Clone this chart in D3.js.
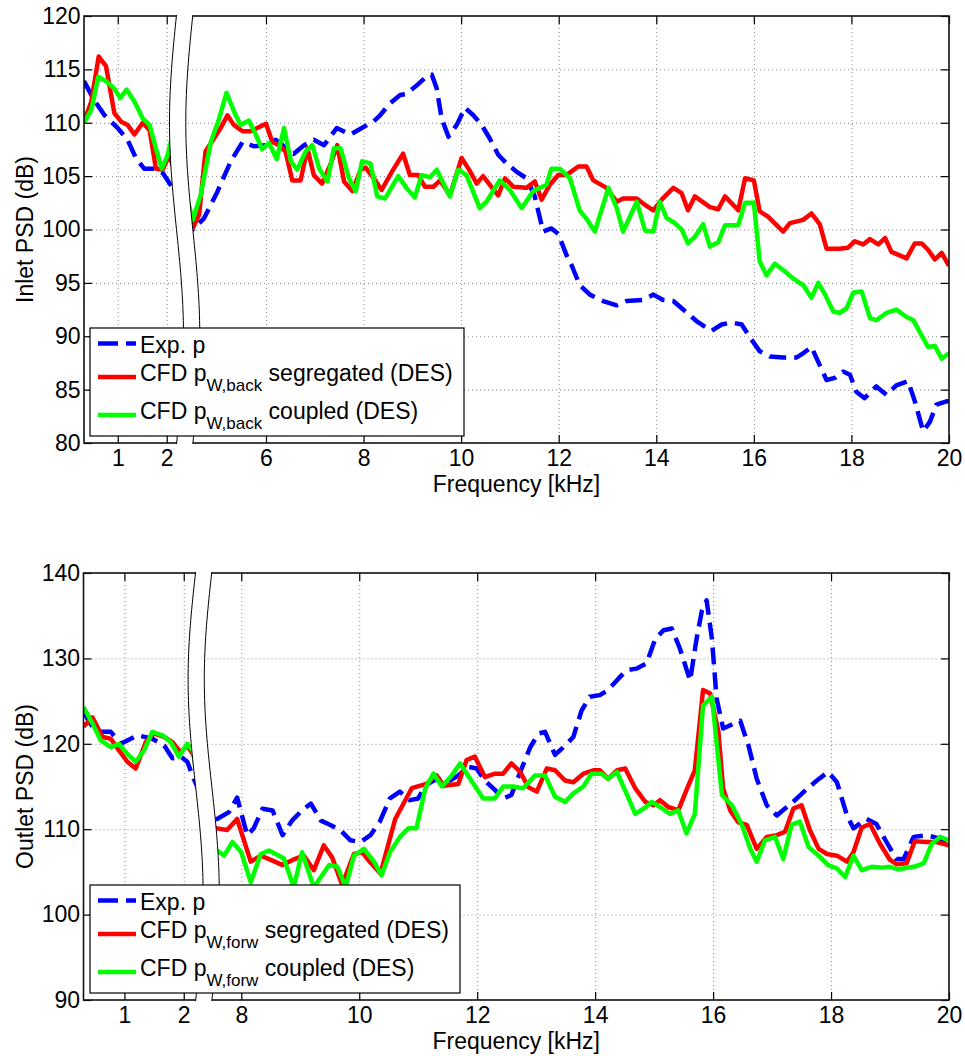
<!DOCTYPE html>
<html><head><meta charset="utf-8">
<script src="https://cdn.jsdelivr.net/npm/d3@7"></script>
<style>body{margin:0;background:#fff}svg{display:block;font-family:"Liberation Sans",Arial,Helvetica,sans-serif}</style>
</head><body><svg id="c" width="965" height="1056"></svg>
<script>
// ---------- tick labels ----------
const inletXTicks=[1,2,6,8,10,12,14,16,18,20];
const inletYTicks=[80,85,90,95,100,105,110,115,120];
const outletXTicks=[1,2,8,10,12,14,16,18,20];
const outletYTicks=[90,100,110,120,130,140];

// ---------- broken frequency axis (kHz): start, break start, break end, end ----------
const inletXDomain=[0.31,2.2,4.5,20];
const outletXDomain=[0.31,2.2,7.5,20];

// ---------- legend labels ----------
const inletLegend=[{main:"Exp. p"},{main:"CFD p",sub:"W,back",rest:" segregated (DES)"},{main:"CFD p",sub:"W,back",rest:" coupled (DES)"}];
const outletLegend=[{main:"Exp. p"},{main:"CFD p",sub:"W,forw",rest:" segregated (DES)"},{main:"CFD p",sub:"W,forw",rest:" coupled (DES)"}];

// ---------- Inlet PSD (dB) ----------
const inletExp=[[0.31,113.9],[0.52,112.1],[0.73,110.7],[1.0,109.5],[1.2,108.4],[1.37,106.7],[1.54,105.7],[1.75,105.7],[1.92,105.3],[2.12,103.9],[2.3,103.2],
[4.5,100.0],[4.73,101.05],[5.0,103.5],[5.28,106.4],[5.52,108.2],[5.75,107.8],[6.0,107.9],[6.2,108.4],[6.37,107.8],[6.57,107.1],[6.78,107.9],[6.98,108.4],[7.19,107.9],[7.45,109.5],[7.73,108.9],[8.0,109.6],[8.2,110.1],[8.34,110.7],[8.54,111.8],[8.75,112.6],[8.88,112.7],[9.09,113.5],[9.26,114.2],[9.4,114.5],[9.5,113.2],[9.6,110.4],[9.74,108.7],[9.91,109.8],[10.08,111.4],[10.25,110.7],[10.42,109.8],[10.59,108.5],[10.76,107],[10.93,106.2],[11.14,105.4],[11.34,104.8],[11.51,103.1],[11.68,99.8],[11.85,100.1],[11.99,99.6],[12.16,97.6],[12.26,96.7],[12.43,94.8],[12.64,93.9],[12.91,93.3],[13.19,92.9],[13.39,93.3],[13.73,93.4],[13.94,93.9],[14.14,93.4],[14.35,93.3],[14.55,92.5],[14.83,91.4],[15.13,90.5],[15.34,91.1],[15.54,91.3],[15.75,91.1],[15.95,89.7],[16.12,88.6],[16.33,88.1],[16.6,88],[16.87,88],[17.01,88.4],[17.18,89],[17.35,87.3],[17.49,85.9],[17.66,86.1],[17.83,86.7],[17.97,86.4],[18.1,84.8],[18.27,84.2],[18.51,85.3],[18.72,84.5],[18.92,85.4],[19.16,85.8],[19.3,83.9],[19.47,81.1],[19.61,82],[19.74,83.6],[19.95,83.9],[20,83.9]];
const inletSeg=[[0.31,110.1],[0.46,112],[0.61,116.2],[0.76,115.3],[0.93,110.9],[1.07,110.1],[1.2,109.8],[1.34,108.9],[1.51,110],[1.65,109.3],[1.78,105.7],[1.92,105.6],[2.05,107],
[4.5,100.1],[4.63,101.4],[4.76,107.3],[4.93,108.5],[5.07,109.5],[5.21,110.7],[5.34,109.8],[5.52,109.2],[5.69,109.2],[5.82,109.5],[6.0,109.9],[6.13,108.2],[6.27,107.9],[6.4,107.3],[6.54,104.6],[6.71,104.6],[6.85,107.6],[6.98,105.1],[7.15,104.3],[7.33,106.2],[7.46,107.9],[7.6,104.5],[7.77,103.6],[7.94,105.6],[8.04,105.8],[8.21,104.8],[8.37,103.7],[8.58,105.4],[8.81,107.1],[8.95,105.1],[9.12,105.1],[9.26,104],[9.43,104],[9.57,104.6],[9.77,103.2],[10.01,106.7],[10.15,105.7],[10.32,104.3],[10.45,105],[10.62,104],[10.76,103.2],[10.9,104.8],[11.07,104],[11.34,103.9],[11.51,104.5],[11.65,102.8],[11.82,104.2],[11.99,105.1],[12.16,105.1],[12.4,105.9],[12.57,105.9],[12.71,104.6],[12.98,103.9],[13.19,102.6],[13.32,102.9],[13.6,102.9],[13.77,102.3],[13.94,101.8],[14.11,102.8],[14.35,103.9],[14.52,103.4],[14.65,101.8],[14.79,103.1],[15.1,102.1],[15.27,101.9],[15.41,103.1],[15.68,101.8],[15.82,104.8],[16.0,104.6],[16.12,101.7],[16.29,101.2],[16.6,99.8],[16.74,100.6],[17.01,100.9],[17.18,101.5],[17.35,100.5],[17.49,98.2],[17.76,98.2],[17.93,98.3],[18.07,98.9],[18.24,98.6],[18.38,99.1],[18.55,98.6],[18.69,99.2],[18.82,97.9],[19.13,97.3],[19.3,98.7],[19.44,98.7],[19.57,98.1],[19.71,97.2],[19.85,97.8],[20,96.6]];
const inletCoup=[[0.31,110],[0.46,111.2],[0.6,114.3],[0.76,113.9],[0.93,113.2],[1.05,112.3],[1.18,113.1],[1.34,112],[1.51,110.4],[1.65,109.8],[1.78,107.6],[1.9,105.7],[2.02,107],[2.1,108.5],
[4.5,100.9],[4.66,103.2],[4.87,108.2],[5.04,110.4],[5.19,112.8],[5.38,110.7],[5.48,109.8],[5.65,110.2],[5.79,108.9],[5.92,107.5],[6.06,108.1],[6.22,106.6],[6.37,109.5],[6.51,106.4],[6.64,105.6],[6.81,107.3],[6.95,107.9],[7.09,105.7],[7.26,104.5],[7.39,107.6],[7.53,107.6],[7.7,104.8],[7.84,103.6],[7.97,106.4],[8.14,106.2],[8.28,103.1],[8.44,102.9],[8.71,105],[8.88,103.9],[9.05,103],[9.19,105.1],[9.36,104.9],[9.5,105.6],[9.77,103.1],[9.94,105.6],[10.11,105.1],[10.38,102],[10.52,102.6],[10.79,104.6],[11.0,103.7],[11.24,102],[11.48,103.6],[11.75,104.2],[11.85,105.7],[12.02,105.7],[12.23,104.8],[12.43,101.8],[12.57,101],[12.74,99.8],[13.02,103.9],[13.19,102],[13.32,99.8],[13.6,102.6],[13.77,99.9],[13.94,99.8],[14.07,102.6],[14.21,101.1],[14.38,100.6],[14.52,100],[14.65,98.7],[14.79,99.3],[14.96,100.5],[15.1,98.4],[15.27,98.8],[15.41,100.4],[15.68,100.4],[15.82,102.5],[16.0,102.5],[16.12,97],[16.26,95.7],[16.43,96.8],[16.6,96.2],[16.81,95.4],[17.01,94.8],[17.18,93.6],[17.32,95],[17.46,93.9],[17.63,92.3],[17.76,92.2],[17.9,92.6],[18.04,94.1],[18.21,94.2],[18.38,91.7],[18.51,91.5],[18.72,92.2],[18.92,92.5],[19.13,91.8],[19.27,91.5],[19.4,90.4],[19.57,89],[19.71,89.1],[19.85,87.9],[20,88.4]];

// ---------- Outlet PSD (dB) ----------
const outletExp=[[0.31,123.7],[0.46,122],[0.6,121.4],[0.77,121.4],[0.94,120],[1.22,121],[1.47,120.6],[1.67,119.8],[1.81,118.3],[1.95,118.5],[2.06,117.9],[2.17,115.9],
[7.5,111.0],[7.59,111.2],[7.79,112],[7.93,113.7],[8.1,109.3],[8.21,110.1],[8.36,112.4],[8.53,112.2],[8.7,109.3],[8.86,111],[9.03,112.2],[9.18,113],[9.35,111],[9.51,110.5],[9.68,109.9],[9.85,108.7],[10.02,108.5],[10.19,109.3],[10.35,110.9],[10.52,113.6],[10.69,114.4],[10.86,113.4],[11.0,113.6],[11.12,115.1],[11.26,115.7],[11.4,115.9],[11.54,115.7],[11.68,116.3],[11.85,117.3],[11.99,117.1],[12.13,115.7],[12.3,114.6],[12.44,113.6],[12.58,114],[12.73,116.7],[12.9,119.6],[13.04,121.2],[13.15,121.4],[13.32,118.7],[13.46,119.6],[13.63,120.8],[13.77,123.9],[13.91,125.5],[14.08,125.7],[14.22,126.3],[14.39,127.6],[14.53,128.6],[14.7,128.8],[14.87,129.4],[15.02,132.3],[15.16,133.3],[15.3,133.5],[15.44,131.1],[15.61,127.4],[15.72,132.3],[15.81,135.6],[15.89,136.8],[15.98,132.3],[16.06,125.3],[16.17,121.8],[16.46,122.7],[16.6,119.8],[16.74,115.9],[16.91,112.8],[17.08,111.6],[17.25,112.6],[17.42,113.6],[17.59,114.7],[17.76,115.7],[17.95,116.7],[18.1,115.5],[18.27,111.6],[18.38,110.1],[18.6,111.2],[18.77,110.6],[18.94,108.5],[19.11,106.5],[19.23,106.5],[19.4,109.1],[19.62,109.3],[19.85,108.9],[20,107.7]];
const outletSeg=[[0.31,122],[0.46,123.1],[0.63,120.8],[0.77,120.6],[0.91,119.2],[1.05,117.9],[1.19,117.1],[1.36,120.2],[1.5,121.2],[1.67,120.8],[1.81,120.2],[1.95,119],[2.06,119.8],[2.17,118.6],
[7.5,110.0],[7.59,110.1],[7.76,109.9],[7.93,111.2],[8.16,106.2],[8.33,106.9],[8.5,106.4],[8.7,105.8],[8.87,106.4],[9.06,106.9],[9.23,105.2],[9.4,108.1],[9.54,106.7],[9.71,103.5],[9.91,107.1],[10.05,107.3],[10.19,106.1],[10.36,104.8],[10.61,111.2],[10.89,114.8],[11.14,115.3],[11.31,116.3],[11.43,115.1],[11.68,115.3],[11.82,118.1],[11.96,118.5],[12.13,116.1],[12.3,116.5],[12.44,116.5],[12.58,117.7],[12.73,116.7],[12.87,114.9],[13.01,114.4],[13.18,117.1],[13.32,116.9],[13.49,115.7],[13.63,115.5],[13.8,116.5],[13.97,116.9],[14.08,116.9],[14.22,115.9],[14.37,116.9],[14.51,117.1],[14.68,114.8],[14.85,113.2],[14.99,112.8],[15.1,113.4],[15.24,112.6],[15.41,112.2],[15.55,114.6],[15.69,116.9],[15.83,126.3],[15.95,125.9],[16.09,121.4],[16.17,114.8],[16.29,112.2],[16.43,110.8],[16.57,110.5],[16.74,107.7],[16.91,109.1],[17.08,109.3],[17.22,109.7],[17.36,112.4],[17.5,112.8],[17.64,109.9],[17.79,107.7],[17.93,107.1],[18.1,106.9],[18.27,106.2],[18.38,107.3],[18.52,110.2],[18.66,110.6],[18.83,108.3],[19.0,106.4],[19.11,105.9],[19.28,106],[19.42,108.6],[19.62,108.5],[19.79,108.5],[20,108.1]];
const outletCoup=[[0.31,124.3],[0.46,122.4],[0.6,120.4],[0.77,119.6],[0.91,120],[1.05,118.8],[1.19,117.9],[1.33,119.2],[1.47,121.4],[1.64,121],[1.78,120.2],[1.92,118.5],[2.06,120],[2.15,119.2],
[7.5,107.6],[7.59,107.5],[7.71,106.9],[7.85,108.5],[8.0,107.3],[8.16,103.8],[8.33,107.1],[8.47,107.5],[8.72,106.6],[8.89,103.2],[9.03,107.3],[9.23,103.2],[9.49,105.8],[9.63,105.6],[9.77,103.2],[9.91,106.9],[10.08,107.7],[10.25,106.2],[10.38,104.6],[10.52,107.3],[10.69,109.1],[10.83,110.1],[10.97,110.1],[11.12,114.8],[11.26,116.5],[11.4,115],[11.57,116.3],[11.71,117.7],[11.88,115.9],[12.1,113.6],[12.3,113.6],[12.44,115],[12.61,115],[12.78,114.8],[12.98,116.3],[13.15,116.3],[13.32,113.8],[13.49,113.2],[13.63,114.2],[13.8,115],[13.94,116.5],[14.11,116.5],[14.22,115.9],[14.37,116.7],[14.53,114.2],[14.68,111.8],[14.82,112.4],[14.96,113.2],[15.1,112.6],[15.27,111.8],[15.41,112.2],[15.55,109.5],[15.69,111.8],[15.83,124.5],[15.98,125.5],[16.15,114],[16.32,112.8],[16.49,110.5],[16.63,107.7],[16.74,106.2],[16.88,108.7],[17.05,109.1],[17.19,106.5],[17.33,110.5],[17.47,110.9],[17.62,107.9],[17.79,106.9],[17.95,105.8],[18.1,105.4],[18.24,104.4],[18.38,106.9],[18.52,105.2],[18.69,105.6],[18.86,105.5],[19.0,105.6],[19.14,105.3],[19.4,105.6],[19.57,106],[19.71,108.3],[19.85,109.1],[20,108.7]];

const COLORS={exp:"#0000ff",seg:"#ff0000",coup:"#00ff00"};
const FS=23, SUB=17;
const svg=d3.select("#c");

function panel(o){
  const g=svg.append("g");
  const x=d3.scaleLinear().domain(o.xDomain).range(o.xRange);
  const y=d3.scaleLinear().domain(o.yDomain).range([o.bottom,o.top]);
  const L=o.xRange[0], R=o.xRange[o.xRange.length-1];
  const cid="clip"+o.key;
  svg.append("defs").append("clipPath").attr("id",cid).append("rect")
    .attr("x",L).attr("y",o.top).attr("width",R-L).attr("height",o.bottom-o.top);

  // grid
  const grid=g.append("g").attr("stroke","#8a8a8a").attr("stroke-width",1).attr("stroke-dasharray","1,3");
  grid.selectAll("line.gv").data(o.xTicks.filter(t=>x(t)<R-1)).join("line").attr("class","gv")
    .attr("x1",d=>x(d)+0.5).attr("x2",d=>x(d)+0.5).attr("y1",o.top).attr("y2",o.bottom);
  grid.selectAll("line.gh").data(o.yTicks.filter(t=>t>o.yDomain[0]&&t<o.yDomain[1])).join("line").attr("class","gh")
    .attr("y1",d=>y(d)+0.5).attr("y2",d=>y(d)+0.5).attr("x1",L).attr("x2",R);

  // data
  const line=d3.line().x(d=>x(d[0])).y(d=>y(d[1]));
  const lg=g.append("g").attr("clip-path",`url(#${cid})`).attr("fill","none").attr("stroke-width",4.5)
    .attr("stroke-linejoin","round");
  o.series.forEach(s=>{
    lg.append("path").datum(s.data).attr("d",line).attr("stroke",s.color)
      .attr("stroke-dasharray",s.dash||null);
  });

  // axes
  const tk=8;
  const fmt=d=>String(d);
  const ax=g.append("g").attr("transform",`translate(0,${o.bottom})`)
    .call(d3.axisBottom(x).tickValues(o.xTicks).tickSize(-tk).tickSizeOuter(0).tickPadding(6.7).tickFormat(fmt));
  const axT=g.append("g").attr("transform",`translate(0,${o.top})`)
    .call(d3.axisTop(x).tickValues(o.xTicks).tickSize(-tk).tickSizeOuter(0).tickFormat(""));
  const ayL=g.append("g").attr("transform",`translate(${L},0)`)
    .call(d3.axisLeft(y).tickValues(o.yTicks).tickSize(-tk).tickSizeOuter(0).tickPadding(3.5).tickFormat(fmt));
  const ayR=g.append("g").attr("transform",`translate(${R},0)`)
    .call(d3.axisRight(y).tickValues(o.yTicks).tickSize(-tk).tickSizeOuter(0).tickFormat(""));
  [ax,axT,ayL,ayR].forEach(a=>{
    a.select(".domain").remove();
    a.attr("font-family",null).attr("font-size",FS);
    a.selectAll(".tick line").attr("stroke","#000").attr("stroke-width",1.2);
    a.selectAll("text").attr("fill","#000");
  });
  g.append("rect").attr("x",L).attr("y",o.top).attr("width",R-L).attr("height",o.bottom-o.top)
    .attr("fill","none").attr("stroke","#111").attr("stroke-width",1.6);

  // axis break band
  const xL=x(o.xDomain[1]), xR=x(o.xDomain[2]);
  const ts=d3.range(81).map(i=>i/80);
  const yy=t=>o.top-1+t*(o.bottom-o.top+2);
  const sx=t=>-o.amp*Math.sin(2*Math.PI*t);
  const lc=ts.map(t=>[xL+sx(t),yy(t)]);
  const rc=ts.map(t=>[xR+sx(t),yy(t)]);
  g.append("path").attr("d",d3.line()(lc.concat(rc.slice().reverse()))+"Z").attr("fill","#fff").attr("stroke","none");
  [lc,rc].forEach(c=>g.append("path").attr("d",d3.line()(c)).attr("fill","none").attr("stroke","#000").attr("stroke-width",1));

  // legend
  const lgd=g.append("g");
  lgd.append("rect").attr("x",o.legend.x).attr("y",o.legend.y).attr("width",o.legend.w).attr("height",108)
    .attr("fill","#fff").attr("stroke","#000").attr("stroke-width",1.2);
  const lineY=[15.5,49,87], baseY=[24.5,53,91];
  o.series.forEach((s,i)=>{
    lgd.append("line").attr("x1",o.legend.x+8).attr("x2",o.legend.x+46)
      .attr("y1",o.legend.y+lineY[i]).attr("y2",o.legend.y+lineY[i])
      .attr("stroke",s.color).attr("stroke-width",4.5).attr("stroke-dasharray",s.dash?"20,8":null);
    const it=o.labels[i];
    const t=lgd.append("text").attr("x",o.legend.x+50).attr("y",o.legend.y+baseY[i]).attr("font-size",FS);
    t.append("tspan").text(it.main);
    if(it.sub){
      t.append("tspan").attr("font-size",SUB).attr("dy",10).text(it.sub);
      t.append("tspan").attr("dy",-10).attr("xml:space","preserve").text(it.rest);
    }
  });

  // axis labels
  g.append("text").attr("x",(L+R)/2).attr("y",o.bottom+49).attr("text-anchor","middle").attr("font-size",FS)
    .text("Frequency [kHz]");
  g.append("text").attr("transform",`translate(33,${(o.top+o.bottom)/2}) rotate(-90)`)
    .attr("text-anchor","middle").attr("font-size",FS).text(o.ylabel);
}

panel({key:"in",top:16,bottom:443,xDomain:inletXDomain,xRange:[84,176.5,192.8,949],
  yDomain:[80,120],xTicks:inletXTicks,yTicks:inletYTicks,amp:7,ylabel:"Inlet PSD (dB)",
  series:[{data:inletExp,color:COLORS.exp,dash:"17,8"},{data:inletSeg,color:COLORS.seg},{data:inletCoup,color:COLORS.coup}],
  labels:inletLegend,legend:{x:90,y:328,w:374}});
panel({key:"out",top:573,bottom:1000,xDomain:outletXDomain,xRange:[83.5,195.6,211.8,949],
  yDomain:[90,140],xTicks:outletXTicks,yTicks:outletYTicks,amp:7.5,ylabel:"Outlet PSD (dB)",
  series:[{data:outletExp,color:COLORS.exp,dash:"17,8"},{data:outletSeg,color:COLORS.seg},{data:outletCoup,color:COLORS.coup}],
  labels:outletLegend,legend:{x:90,y:885,w:370}});
</script></body></html>
